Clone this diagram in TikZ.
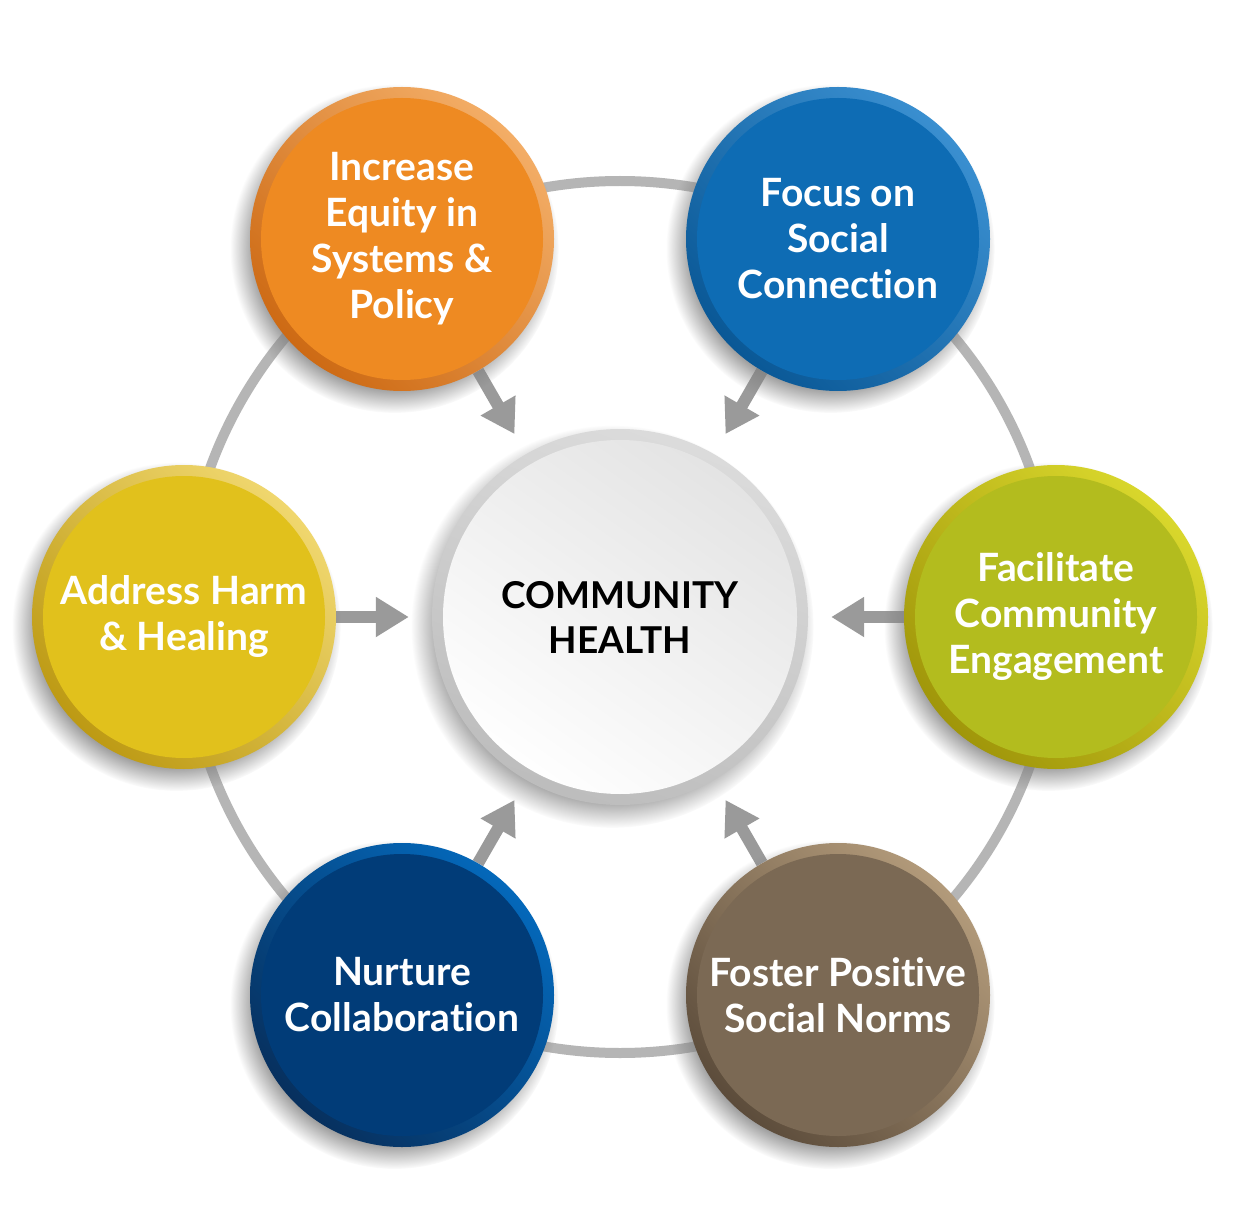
\documentclass[tikz,border=0pt]{standalone}
\usepackage{fontspec}
\setmainfont{Lato}[Ligatures=NoCommon]
\usetikzlibrary{shadows,arrows.meta}
\pgfdeclarelayer{bg}
\pgfsetlayers{bg,main}
\definecolor{oface}{HTML}{EE8A22}\definecolor{olt}{HTML}{F3AD66}\definecolor{odk}{HTML}{CD6A14}
\definecolor{bface}{HTML}{0E6CB4}\definecolor{blt}{HTML}{3A8FD0}\definecolor{bdk}{HTML}{0A5896}
\definecolor{gface}{HTML}{B3BC1E}\definecolor{glt}{HTML}{D9D72C}\definecolor{gdk}{HTML}{A0960A}
\definecolor{yface}{HTML}{E1C11C}\definecolor{ylt}{HTML}{F0D76E}\definecolor{ydk}{HTML}{BD9A14}
\definecolor{nface}{HTML}{013C78}\definecolor{nlt}{HTML}{0468BA}\definecolor{ndk}{HTML}{07305E}
\definecolor{wface}{HTML}{7B6954}\definecolor{wlt}{HTML}{B29A7A}\definecolor{wdk}{HTML}{5C4C3B}
\definecolor{arrgray}{HTML}{9A9A9A}
\definecolor{ringgray}{HTML}{B5B5B5}
\begin{document}
\begin{tikzpicture}[x=1pt,y=-1pt,
  bub/.style n args={3}{circle, minimum size=304pt, inner sep=0pt,
    top color=#2, bottom color=#3, shading angle=-45,
    path picture={\fill[#1] (path picture bounding box.center) circle (141pt);},
    circular drop shadow={shadow xshift=-7pt, shadow yshift=-9pt, opacity=0.75, shadow scale=1.08},
    text=white, font=\fontsize{39}{46}\selectfont\bfseries, align=center},
  arr/.style={draw=arrgray, line width=12pt, -{Triangle[width=38pt,length=33pt]}, shorten >=23pt},
  ring/.style={draw=ringgray, line width=10pt}]
\useasboundingbox (0,0) rectangle (1234,1230);
\node[circle, minimum size=376pt, inner sep=0pt, top color=white!86!black, bottom color=white!74!black, shading angle=-20,
  path picture={\shade[top color=white!89!black, bottom color=white, shading angle=-35] (path picture bounding box.center) circle (177pt);},
  circular drop shadow={shadow xshift=-7pt, shadow yshift=-9pt, opacity=0.75, shadow scale=1.07},
  font=\fontsize{37}{45}\selectfont\bfseries, align=center, text=black] (c) at (620,617) {COMMUNITY\\HEALTH};
\node[bub={oface}{olt}{odk}] (o1) at (402,239) {Increase\\Equity in\\Systems \&\\Policy};
\node[bub={bface}{blt}{bdk}] (o2) at (838,239) {Focus on\\Social\\Connection};
\node[bub={gface}{glt}{gdk}] (o3) at (1056,617) {Facilitate\\Community\\Engagement};
\node[bub={wface}{wlt}{wdk}] (o4) at (838,995) {Foster Positive\\Social Norms};
\node[bub={nface}{nlt}{ndk}] (o5) at (402,995) {Nurture\\Collaboration};
\node[bub={yface}{ylt}{ydk}] (o6) at (184,617) {Address Harm\\\& Healing};
\begin{pgfonlayer}{bg}
\fill[white] (0,0) rectangle (1234,1230);
\draw[ring] (c.center) circle (436pt);
\foreach \n in {o1,o2,o3,o4,o5,o6} {\draw[arr] (\n) -- (c);}
\end{pgfonlayer}
\end{tikzpicture}
\end{document}
